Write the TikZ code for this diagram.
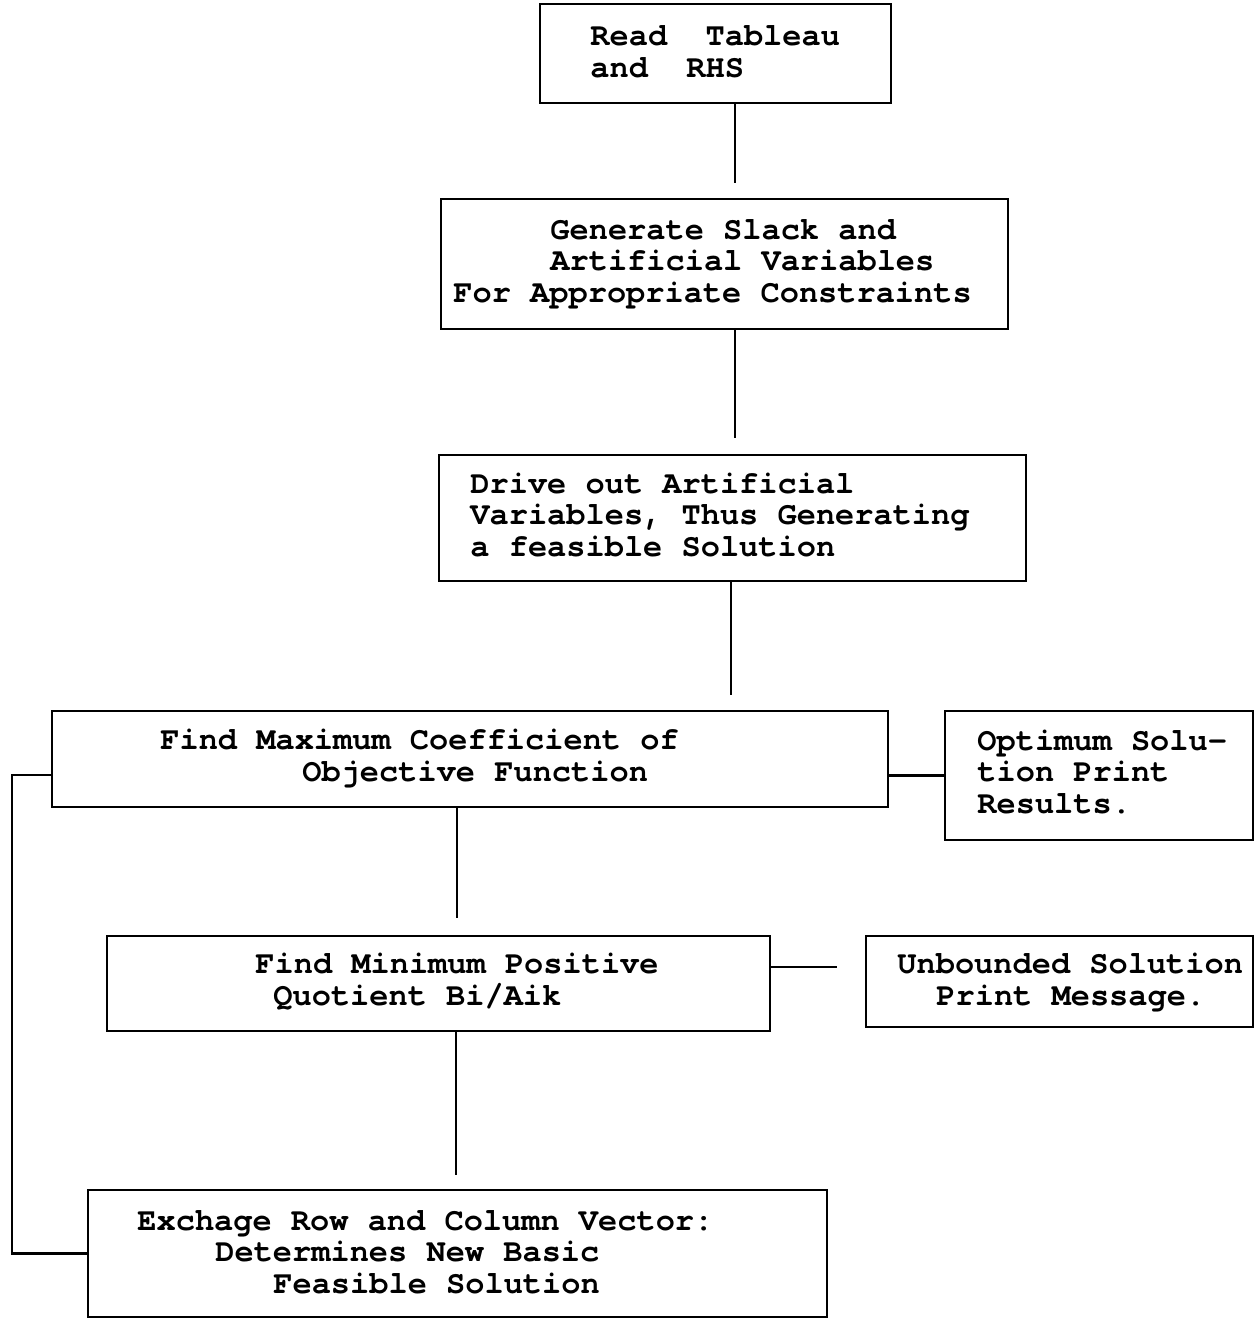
\documentclass[tikz,border=0pt]{standalone}
\usepackage{fontspec}
\newfontfamily\typewriter{texgyrecursor-bold.otf}[Ligatures={NoCommon,NoRequired}]
\usetikzlibrary{fit}
\tikzset{
  box/.style={draw, line width=1.4pt, inner sep=0pt},
  txt/.style={font=\typewriter\fontsize{16}{15.75}\selectfont, align=left, inner sep=0pt, anchor=base west},
  link/.style={line width=1.4pt}
}
\begin{document}
\begin{tikzpicture}[x=0.5pt,y=-0.5pt]
    \useasboundingbox (0,0) rectangle (1255,1319);
    %boxes
    \node[box, fit={(540,4) (891,103)}] (read) {};
    \node[box, fit={(441,199) (1008,329)}] (gen) {};
    \node[box, fit={(439,455) (1026,581)}] (drive) {};
    \node[box, fit={(52,711) (888,807)}] (max) {};
    \node[box, fit={(945,711) (1253,840)}] (opt) {};
    \node[box, fit={(107,936) (770,1031)}] (min) {};
    \node[box, fit={(866,936) (1253,1027)}] (unb) {};
    \node[box, fit={(88,1190) (827,1317)}] (exch) {};
    %texts (base = last line)
    \node[txt] (readtxt) at (590,77) {Read~~Tableau\\and~~RHS};
    \node[txt] (gentxt) at (453,302) {\hspace*{48.5pt}Generate Slack and\\
      \hspace*{48.5pt}Artificial Variables\\For Appropriate Constraints};
    \node[txt] (drivetxt) at (470,556) {Drive out Artificial\\
      Variables, Thus Generating\\a feasible Solution};
    \node[txt] (maxtxt) at (160,781) {Find Maximum Coefficient of\\
      \hspace*{71pt}Objective Function};
    \node[txt] (opttxt) at (977,813) {Optimum Solu-\\tion Print\\Results.};
    \node[txt] (mintxt) at (255,1005) {Find Minimum Positive\\
      \hspace*{9pt}Quotient Bi/Aik};
    \node[txt] (unbtxt) at (897,1005) {Unbounded Solution\\
      \hspace*{19.5pt}Print Message.};
    \node[txt] (exchtxt) at (137,1293) {Exchage Row and Column Vector:\\
      \hspace*{39pt}Determines New Basic\\\hspace*{68pt}Feasible Solution};
    %connectors
    \coordinate (c1) at (735,183);
    \coordinate (c2) at (735,438);
    \coordinate (c3) at (731,695);
    \coordinate (c4) at (457,918);
    \coordinate (c5) at (456,1175);
    \coordinate (loop) at (12,775);
    \coordinate (c6) at (837,967);
    \draw[link] (read.south -| c1) -- (c1);
    \draw[link] (gen.south -| c2) -- (c2);
    \draw[link] (drive.south -| c3) -- (c3);
    \draw[link] (max.south -| c4) -- (c4);
    \draw[link] (min.south -| c5) -- (c5);
    \draw[link] (exch.west) -| (loop) -- (loop -| max.west);
    \draw[link] (opt.west) -- (opt.west -| max.east);
    \draw[link] (c6 -| min.east) -- (c6);
\end{tikzpicture}
\end{document}
